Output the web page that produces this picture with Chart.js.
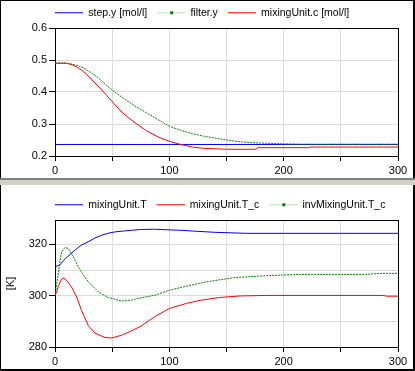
<!DOCTYPE html>
<html>
<head>
<meta charset="utf-8">
<script src="https://cdn.jsdelivr.net/npm/chart.js@4/dist/chart.umd.min.js"></script>
<style>
  body { margin: 0; background: #fff; }
  #wrap { position: relative; width: 415px; height: 371px; overflow: hidden; }
  canvas { position: absolute; left: 0; }
  .bar { position: absolute; }
</style>
</head>
<body>
<div id="wrap">
  <canvas id="conc" width="415" height="178" style="top:0"></canvas>
  <canvas id="temp" width="415" height="186" style="top:185px"></canvas>
  <div class="bar" style="left:0;top:0;width:415px;height:1px;background:#000"></div>
  <div class="bar" style="left:0;top:0;width:1px;height:178px;background:#000"></div>
  <div class="bar" style="left:413px;top:0;width:2px;height:178px;background:#000"></div>
  <div class="bar" style="left:0;top:178px;width:415px;height:2px;background:#808080"></div>
  <div class="bar" style="left:0;top:180px;width:415px;height:5px;background:#d4d0c8"></div>
  <div class="bar" style="left:0;top:185px;width:1px;height:186px;background:#000"></div>
  <div class="bar" style="left:413px;top:185px;width:2px;height:186px;background:#000"></div>
  <div class="bar" style="left:0;top:369px;width:415px;height:2px;background:#000"></div>
</div>
<script>
// top plot: concentrations [mol/l]
const stepTime = [0, 300];
const stepY = [0.236, 0.236];

const filterTime = [0, 10, 15, 20, 25, 30, 35, 40, 45, 50, 60, 70, 80, 90, 100, 110, 120, 130, 140, 150, 160, 175, 200, 215, 300];
const filterY = [0.49, 0.49, 0.487, 0.482, 0.475, 0.464, 0.452, 0.437, 0.421, 0.406, 0.38, 0.356, 0.335, 0.314, 0.293, 0.28, 0.27, 0.262, 0.256, 0.25, 0.245, 0.241, 0.238, 0.237, 0.237];

const mixCTime = [0, 10, 15, 20, 25, 30, 35, 40, 45, 50, 55, 60, 70, 80, 90, 100, 110, 120, 130, 150, 176, 177, 222, 223, 300];
const mixC = [0.49, 0.49, 0.485, 0.476, 0.464, 0.447, 0.428, 0.41, 0.39, 0.37, 0.35, 0.332, 0.304, 0.279, 0.26, 0.246, 0.236, 0.228, 0.224, 0.221, 0.221, 0.226, 0.226, 0.228, 0.228];

// bottom plot: temperatures [K]
const mixTTime = [0, 4, 9, 17, 23, 29, 35, 41, 47, 53, 60, 67, 75, 87, 97, 110, 120, 140, 168, 200, 250, 300];
const mixT = [311.3, 311.9, 314.4, 317.6, 319.7, 321.0, 322.5, 323.6, 324.4, 324.9, 325.2, 325.5, 325.8, 325.9, 325.7, 325.5, 325.2, 324.7, 324.3, 324.3, 324.3, 324.3];

const mixTcTime = [0, 1.5, 3, 5.8, 7.3, 10.2, 14.6, 19, 23.3, 29.2, 35, 43.7, 49.5, 58.3, 67, 75.8, 87.5, 100, 115, 127, 144, 162, 185, 287, 290, 300];
const mixTc = [300.2, 301.3, 303.9, 306.5, 306.9, 305.9, 303.3, 299.4, 294.2, 288.3, 285.4, 283.7, 283.5, 284.6, 286.3, 288.3, 291.9, 295, 297, 298.2, 299.3, 299.9, 300.1, 300.1, 299.8, 299.8];

const invTcTime = [0, 1.5, 3, 4.5, 5.8, 8.7, 11.7, 16, 21.9, 29.2, 37.9, 46.6, 58.3, 67, 75.8, 87.5, 100.6, 115, 132.7, 156, 185, 214, 272, 285, 300];
const invTc = [300, 304.8, 309, 314, 317.1, 318.8, 318.4, 315.2, 310, 305.4, 301.5, 299.3, 297.9, 298.3, 299.2, 300.2, 302.2, 303.7, 305.4, 307, 307.8, 308.3, 308.3, 308.7, 308.7];

const xTicks = [0, 100, 200, 300];

Chart.defaults.font.family = "'Liberation Sans', Arial, sans-serif";
Chart.defaults.font.size = 11;
Chart.defaults.color = "#000";

function pts(ts, vs) {
  return ts.map((t, i) => ({ x: t, y: vs[i] }));
}

// small legend picture: line, optionally with a square marker
function legendIcon(lineColor, markColor) {
  const c = document.createElement("canvas");
  c.width = 31;
  c.height = 7;
  const g = c.getContext("2d");
  g.fillStyle = lineColor;
  g.fillRect(3, 3, 28, 1);
  if (markColor) {
    g.fillStyle = markColor;
    g.fillRect(16, 2, 3, 3);
  }
  return c;
}

const frame = {
  id: "frame",
  beforeDatasetsDraw(chart) {
    const a = chart.chartArea;
    const ctx = chart.ctx;
    ctx.save();
    ctx.strokeStyle = "#000";
    ctx.lineWidth = 1;
    ctx.strokeRect(Math.round(a.left) + 0.5, Math.round(a.top) + 0.5,
      Math.round(a.right) - Math.round(a.left), Math.round(a.bottom) - Math.round(a.top));
    ctx.restore();
  }
};

// legend starts at the left edge of the plot, like the original
const legendShift = {
  id: "legendShift",
  afterLayout(chart) {
    chart.legend.left = 45;
    chart.legend.right = chart.width;
  }
};

function makeOptions(y, pad) {
  return {
    responsive: false,
    animation: false,
    layout: { padding: pad },
    plugins: {
      tooltip: { enabled: false },
      legend: {
        position: "top",
        align: "start",
        labels: {
          usePointStyle: true,
          pointStyleWidth: 31,
          padding: 7,
          color: "#000",
          font: { size: 10.5 },
          generateLabels: (chart) => chart.data.datasets.map((ds, i) => ({
            text: ds.label,
            pointStyle: ds.icon,
            hidden: false,
            datasetIndex: i,
            fontColor: "#000",
            lineWidth: 0,
            strokeStyle: "rgba(0,0,0,0)",
            fillStyle: "rgba(0,0,0,0)"
          }))
        }
      }
    },
    elements: { point: { radius: 0 }, line: { borderWidth: 1, tension: 0 } },
    scales: {
      x: {
        type: "linear",
        min: 0,
        max: 300,
        afterFit: (s) => { s.height = 22; },
        border: { display: false },
        grid: { color: "#dcdcdc", tickColor: "#000", tickLength: 5 },
        ticks: {
          stepSize: 50,
          padding: 3,
          maxRotation: 0,
          autoSkip: false,
          callback: (v) => (xTicks.includes(v) ? String(v) : "")
        }
      },
      y: y
    }
  };
}

new Chart(document.getElementById("conc"), {
  type: "line",
  data: {
    datasets: [
      { label: "step.y [mol/l]", data: pts(stepTime, stepY), borderColor: "#0000ff",
        icon: legendIcon("#0000ff"), order: 2 },
      { label: "filter.y", data: pts(filterTime, filterY), borderColor: "#008000",
        borderDash: [2, 1], icon: legendIcon("#c4e0c4", "#008000"), order: 0 },
      { label: "mixingUnit.c [mol/l]", data: pts(mixCTime, mixC), borderColor: "#ff0000",
        icon: legendIcon("#ff0000"), order: 1 }
    ]
  },
  options: makeOptions({
    min: 0.2,
    max: 0.6,
    afterFit: (s) => { s.width = 55; },
    border: { display: false },
    grid: { color: "#dcdcdc", tickColor: "#000", tickLength: 6 },
    ticks: { stepSize: 0.1, padding: 2, callback: (v) => v.toFixed(1) }
  }, { left: 0, right: 17, top: 0.5, bottom: 0 }),
  plugins: [frame, legendShift]
});

new Chart(document.getElementById("temp"), {
  type: "line",
  data: {
    datasets: [
      { label: "mixingUnit.T", data: pts(mixTTime, mixT), borderColor: "#0000ff",
        icon: legendIcon("#0000ff"), order: 1 },
      { label: "mixingUnit.T_c", data: pts(mixTcTime, mixTc), borderColor: "#ff0000",
        icon: legendIcon("#ff0000"), order: 2 },
      { label: "invMixingUnit.T_c", data: pts(invTcTime, invTc), borderColor: "#008000",
        borderDash: [2, 1], icon: legendIcon("#c4e0c4", "#008000"), order: 0 }
    ]
  },
  options: makeOptions({
    min: 280,
    max: 329.5,
    afterFit: (s) => { s.width = 55; },
    border: { display: false },
    title: { display: true, text: "[K]", color: "#000", padding: { top: 4, bottom: 0 } },
    grid: {
      color: "#dcdcdc",
      tickLength: 6,
      tickColor: (c) => (c.tick && c.tick.value % 20 === 0 ? "#000" : "rgba(0,0,0,0)")
    },
    ticks: {
      stepSize: 10,
      includeBounds: false,
      padding: 2,
      callback: (v) => (v % 20 === 0 ? String(v) : "")
    }
  }, { left: 0, right: 17, top: 7.5, bottom: 2 }),
  plugins: [frame, legendShift]
});
</script>
</body>
</html>
